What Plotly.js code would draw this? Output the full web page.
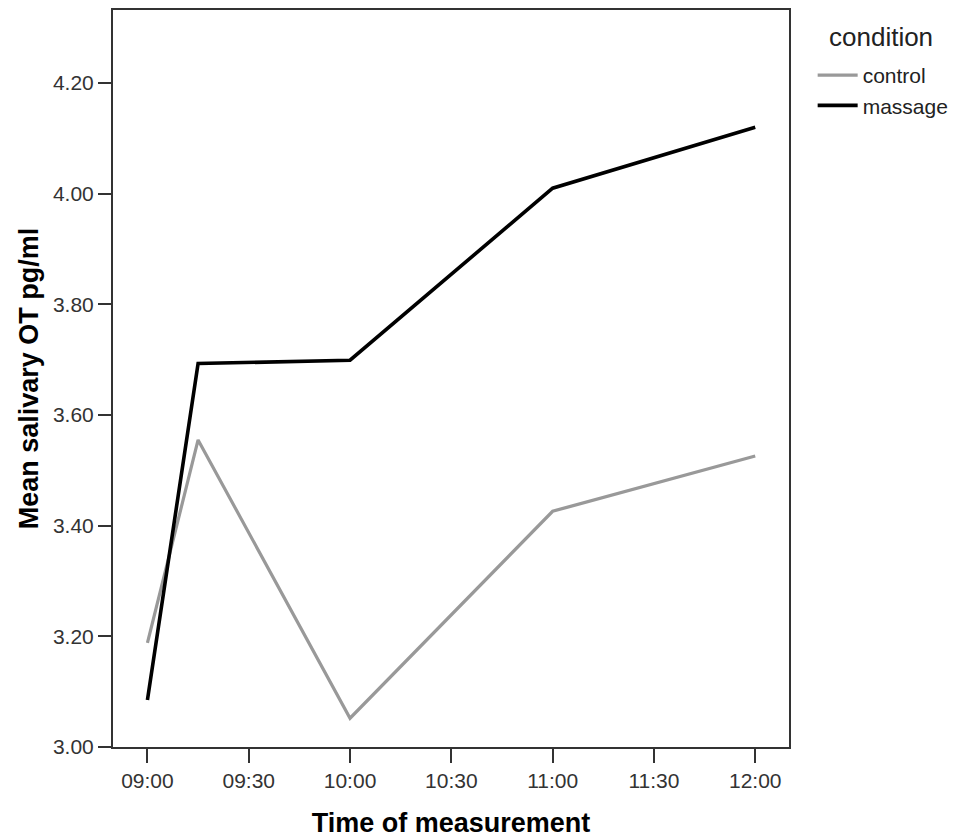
<!DOCTYPE html>
<html>
<head>
<meta charset="utf-8">
<script src="https://cdn.plot.ly/plotly-3.0.1.min.js"></script>
<style>html,body{margin:0;padding:0;background:#fff;}#chart{width:956px;height:839px;}</style>
</head>
<body>
<div id="chart"></div>
<script>
// minutes after 09:00
const timesMin = [0, 15, 60, 120, 180];
const controlValues = [3.188, 3.555, 3.052, 3.426, 3.526];
const massageValues = [3.085, 3.693, 3.699, 4.010, 4.120];
const xTickVals = [0, 30, 60, 90, 120, 150, 180];
const xTickText = ["09:00", "09:30", "10:00", "10:30", "11:00", "11:30", "12:00"];
const yTickVals = [3.0, 3.2, 3.4, 3.6, 3.8, 4.0, 4.2];
const legendTitle = "condition";

const font = "Liberation Sans, Arial, sans-serif";
const traces = [
  {x: timesMin, y: controlValues, name: "control", mode: "lines", type: "scatter",
   line: {color: "#999999", width: 3.2}},
  {x: timesMin, y: massageValues, name: "massage", mode: "lines", type: "scatter",
   line: {color: "#000000", width: 3.6}}
];
const layout = {
  width: 956, height: 839,
  margin: {l: 113, r: 167, t: 10, b: 92, autoexpand: false},
  paper_bgcolor: "#fff", plot_bgcolor: "#fff",
  font: {family: font, color: "#222", size: 20},
  showlegend: true,
  legend: {x: 1.035, xanchor: "left", y: 0.939, yanchor: "top",
    font: {size: 21, color: "#222"}, tracegroupgap: 0, itemwidth: 40},
  annotations: [{text: legendTitle, xref: "paper", yref: "paper", x: 1.136, y: 0.963,
    xanchor: "center", yanchor: "middle", showarrow: false,
    font: {size: 26, color: "#222"}}],
  xaxis: {range: [-10.2, 190], tickvals: xTickVals, ticktext: xTickText,
    ticks: "outside", ticklen: 14, tickwidth: 2, tickcolor: "#333",
    showline: true, linecolor: "#333", linewidth: 2, mirror: true,
    showgrid: false, zeroline: false,
    tickfont: {size: 21, color: "#333"},
    title: {text: "Time of measurement", font: {size: 27, color: "#000", weight: "bold"}, standoff: 22}},
  yaxis: {range: [3.0, 4.332], tickvals: yTickVals, tickformat: ".2f",
    ticks: "outside", ticklen: 13, tickwidth: 2, tickcolor: "#333",
    showline: true, linecolor: "#333", linewidth: 2, mirror: true,
    showgrid: false, zeroline: false,
    tickfont: {size: 21, color: "#333"},
    title: {text: "Mean salivary OT pg/ml", font: {size: 27, color: "#000", weight: "bold"}, standoff: 6}}
};
Plotly.newPlot("chart", traces, layout, {displayModeBar: false});
</script>
</body>
</html>
